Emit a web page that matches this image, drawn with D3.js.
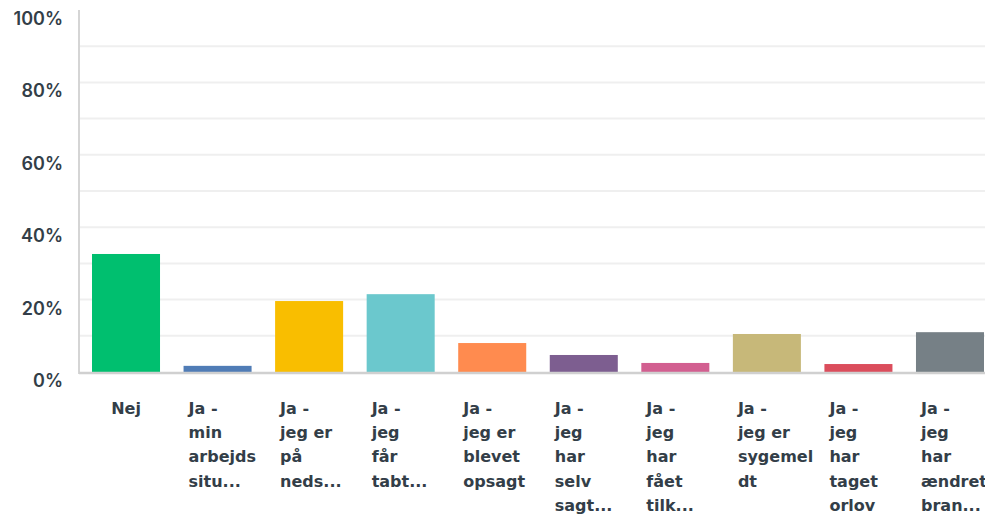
<!DOCTYPE html>
<html>
<head>
<meta charset="utf-8">
<script src="https://cdn.jsdelivr.net/npm/d3@7"></script>
<style>
  body { margin: 0; background: #fff; }
  svg text { font-family: Inter, "Noto Sans", sans-serif; fill: #333e48; }
  svg .cat { font-family: "DejaVu Sans", sans-serif; }
</style>
</head>
<body>
<svg id="chart" width="985" height="514"></svg>
<script>
// answer categories (lines as shown under each bar)
const categories = [
  ['Nej'],
  ['Ja -', 'min', 'arbejds', 'situ...'],
  ['Ja -', 'jeg er', 'på', 'neds...'],
  ['Ja -', 'jeg', 'får', 'tabt...'],
  ['Ja -', 'jeg er', 'blevet', 'opsagt'],
  ['Ja -', 'jeg', 'har', 'selv', 'sagt...'],
  ['Ja -', 'jeg', 'har', 'fået', 'tilk...'],
  ['Ja -', 'jeg er', 'sygemel', 'dt'],
  ['Ja -', 'jeg', 'har', 'taget', 'orlov'],
  ['Ja -', 'jeg', 'har', 'ændret', 'bran...']
];
const values = [32.6, 1.7, 19.6, 21.5, 8.0, 4.7, 2.5, 10.5, 2.2, 11.0];
const colors = ['#00bf6f', '#507cb6', '#f9be00', '#6bc8cd', '#ff8b4f',
                '#7d5e90', '#d25f90', '#c7b879', '#db4d5c', '#768086'];
const yTicks = [0, 20, 40, 60, 80, 100];
const gridTicks = [10, 20, 30, 40, 50, 60, 70, 80, 90];

const width = 985;
const plotLeft = 79, plotTop = 10, plotBottom = 372;

const svg = d3.select('#chart');

const x = d3.scaleBand()
    .domain(d3.range(values.length))
    .range([plotLeft, 997])
    .paddingInner(0.257)
    .paddingOuter(0.142);

const y = d3.scaleLinear().domain([0, 100]).range([plotBottom, plotTop]);

// grid
svg.append('g').selectAll('line')
    .data(gridTicks)
    .enter().append('line')
    .attr('x1', plotLeft).attr('x2', width)
    .attr('y1', (d) => y(d)).attr('y2', (d) => y(d))
    .attr('stroke', '#efefef')
    .attr('stroke-width', 2);

// y labels
svg.append('g').selectAll('text')
    .data(yTicks)
    .enter().append('text')
    .attr('x', 63)
    .attr('y', (d) => y(d) + 15)
    .attr('text-anchor', 'end')
    .attr('font-size', 18)
    .attr('font-weight', 600)
    .text((d) => d + '%');

// bars
svg.append('g').selectAll('rect')
    .data(values)
    .enter().append('rect')
    .attr('x', (d, i) => x(i))
    .attr('y', (d) => y(d))
    .attr('width', x.bandwidth())
    .attr('height', (d) => plotBottom - y(d))
    .attr('fill', (d, i) => colors[i]);

// axes lines
svg.append('line')
    .attr('x1', plotLeft).attr('x2', plotLeft)
    .attr('y1', plotTop).attr('y2', plotBottom + 2)
    .attr('stroke', '#d5d5d5').attr('stroke-width', 2);
svg.append('line')
    .attr('x1', plotLeft).attr('x2', width)
    .attr('y1', plotBottom + 1).attr('y2', plotBottom + 1)
    .attr('stroke', '#d0d0d0').attr('stroke-width', 2.5);

// category labels
const labels = svg.append('g').selectAll('text')
    .data(categories)
    .enter().append('text')
    .attr('class', 'cat')
    .attr('font-size', 16)
    .attr('font-weight', 'bold')
    .attr('text-anchor', (d) => d.length === 1 ? 'middle' : 'start')
    .attr('transform', (d, i) => {
      const cx = x(i) + x.bandwidth() / 2;
      return 'translate(' + (d.length === 1 ? cx : cx - 29) + ',414)';
    });

labels.selectAll('tspan')
    .data((d) => d)
    .enter().append('tspan')
    .attr('x', 0)
    .attr('y', (d, i) => i * 24.2)
    .text((d) => d);
</script>
</body>
</html>
